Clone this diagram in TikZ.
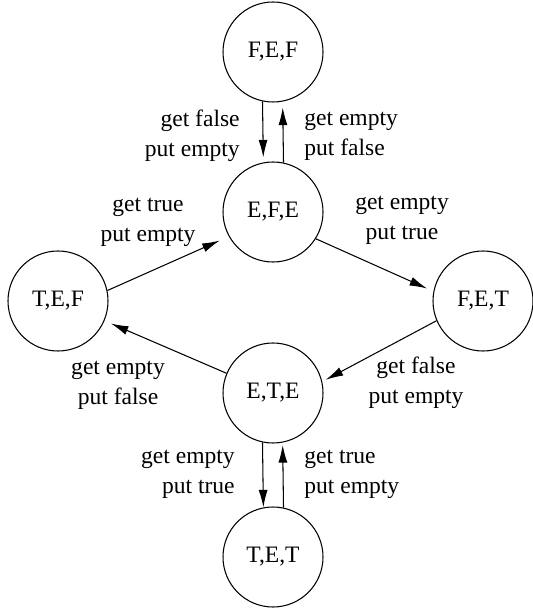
\documentclass[tikz,border=0pt]{standalone}
\usepackage{fontspec}
\setmainfont{Liberation Serif}
\usetikzlibrary{arrows.meta}
\tikzset{
  state/.style={draw,circle,line width=0.6pt,minimum size=2cm,inner sep=0pt},
  lbl/.style={inner sep=0pt,font=\fontsize{13.4}{17}\selectfont},
  arr/.style={line width=0.6pt,-{Latex[length=3.5mm,width=1.8mm]}}
}
\begin{document}
\begin{tikzpicture}[font=\fontsize{13.4}{17}\selectfont]
            \useasboundingbox (0,0) rectangle (10.66,-12.16);

            \node[state] (FEF) at (5.46, -1.04) {F,E,F};
            \node[state] (EFE) at (5.46, -4.24) {E,F,E};
            \node[state] (TEF) at (1.16, -6.02) {T,E,F};
            \node[state] (FET) at (9.66, -6.02) {F,E,T};
            \node[state] (ETE) at (5.46, -7.86) {E,T,E};
            \node[state] (TET) at (5.46, -11.14) {T,E,T};

            \node[lbl,align=right,anchor=east] (L1) at (4.80, -2.72) {get false\\put empty};
            \node[lbl,align=left,anchor=west] (L2) at (6.08, -2.72) {get empty\\put false};
            \node[lbl,align=center] (L3) at (2.96, -4.44) {get true\\put empty};
            \node[lbl,align=center] (L4) at (8.04, -4.40) {get empty\\put true};
            \node[lbl,align=center] (L5) at (2.36, -7.70) {get empty\\put false};
            \node[lbl,align=center] (L6) at (8.32, -7.66) {get false\\put empty};
            \node[lbl,align=right,anchor=east] (L7) at (4.70, -9.48) {get empty\\put true};
            \node[lbl,align=left,anchor=west] (L8) at (6.08, -9.48) {get true\\put empty};

            \draw[arr,shorten >=0.1cm] (FEF.258.5) to (EFE.101.5);
            \draw[arr,shorten >=0.12cm] (EFE.78.5) to (FEF.281.5);
            \draw[arr,shorten >=0.2cm] (TEF.12) to (EFE.209);
            \draw[arr,shorten >=0.14cm] (EFE.328) to (FET.169);
            \draw[arr,shorten >=0.08cm] (FET.203) to (ETE.13);
            \draw[arr,shorten >=0.14cm] (ETE.157.5) to (TEF.337.5);
            \draw[arr] (ETE.258.5) to (TET.101.5);
            \draw[arr,shorten >=0.05cm] (TET.78.5) to (ETE.281.5);

        \end{tikzpicture}
\end{document}
